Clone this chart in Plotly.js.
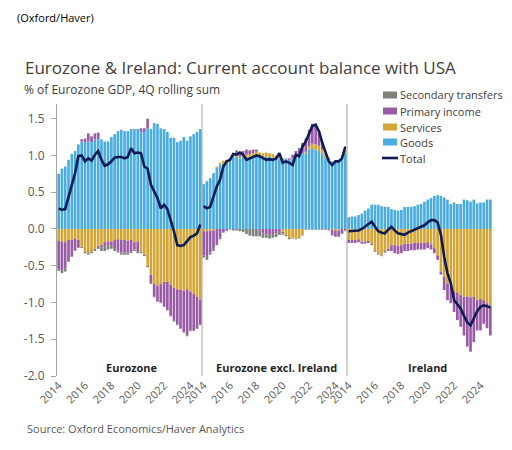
<!DOCTYPE html>
<html><head><meta charset="utf-8">
<script src="https://cdn.plot.ly/plotly-3.0.1.min.js"></script>
<style>html,body{margin:0;padding:0;background:#fff}#chart{width:512px;height:450px}</style>
</head><body><div id="chart"></div>
<script>
// Quarterly categories 2014Q1 - 2024Q4
const years = [2014,2015,2016,2017,2018,2019,2020,2021,2022,2023,2024];
const quarterMonths = ['01','04','07','10'];
const quarters = [];
years.forEach(y => quarterMonths.forEach(m => quarters.push(y + '-' + m + '-01')));
const tickDates = ['2014-01-01','2016-01-01','2018-01-01','2020-01-01','2022-01-01','2024-01-01'];
const tickLabels = ['2014','2016','2018','2020','2022','2024'];
const yTickVals = [1.5,1.0,0.5,0.0,-0.5,-1.0,-1.5,-2.0];
const yTickText = ['1.5','1.0','0.5','0.0','-0.5','-1.0','-1.5','-2.0'];
const panelNames = ['Eurozone','Eurozone excl. Ireland','Ireland'];
const legendNames = ['Secondary transfers','Primary income','Services','Goods','Total'];

// Eurozone
const ezGoods = [0.75,0.82,0.85,0.94,1.02,1.06,1.15,1.19,1.18,1.20, 1.18,1.22,1.22,1.22,1.19,1.19,1.25,1.29,1.33,1.35, 1.33,1.33,1.36,1.36,1.36,1.32,1.32,1.37,1.36,1.44, 1.43,1.37,1.36,1.32,1.24,1.24,1.18,1.20,1.25,1.20, 1.26,1.29,1.32,1.36];
const ezServices = [-0.16,-0.17,-0.18,-0.15,-0.15,-0.13,-0.15,-0.24,-0.31,-0.33, -0.31,-0.27,-0.23,-0.22,-0.18,-0.17,-0.17,-0.15,-0.14,-0.15, -0.15,-0.16,-0.15,-0.18,-0.17,-0.31,-0.35,-0.50,-0.62,-0.75, -0.77,-0.75,-0.72,-0.72,-0.76,-0.80,-0.82,-0.83,-0.84,-0.82, -0.85,-0.88,-0.92,-0.96];
const ezPrimary = [-0.39,-0.39,-0.36,-0.29,-0.22,-0.16,-0.10,0.03,0.05,0.10, 0.08,0.08,0.09,-0.03,-0.06,-0.05,-0.05,-0.11,-0.15,-0.17, -0.17,-0.16,-0.15,-0.10,-0.14,0.05,0.05,0.13,-0.12,-0.17, -0.21,-0.25,-0.33,-0.38,-0.42,-0.45,-0.48,-0.52,-0.56,-0.63, -0.53,-0.50,-0.43,-0.34];
const ezSecondary = [-0.02,-0.04,-0.04,-0.01,-0.01,-0.01,-0.01,-0.02,-0.02,-0.02, -0.02,-0.03,-0.04,-0.05,-0.06,-0.06,-0.05,-0.04,-0.03,-0.03, -0.03,-0.03,-0.03,-0.02,-0.02,-0.02,-0.02,-0.02,-0.01,-0.01, -0.01,-0.01,-0.01,-0.01,-0.01,-0.01,-0.01,-0.01,-0.01,-0.01, -0.01,-0.01,-0.01,-0.01];
const ezTotal = [0.28,0.26,0.27,0.44,0.62,0.76,0.99,1.00,0.92,0.96, 0.93,1.01,1.06,0.94,0.86,0.88,0.92,0.97,0.98,0.98, 0.96,0.98,1.10,1.03,1.04,1.03,0.85,0.82,0.60,0.50, 0.42,0.28,0.33,0.27,0.12,-0.03,-0.22,-0.23,-0.22,-0.16, -0.11,-0.09,-0.06,0.06];

// Eurozone excl. Ireland
const exGoods = [0.61,0.65,0.69,0.76,0.83,0.87,0.89,0.90,0.91,0.98, 0.98,0.96,0.98,0.98,0.98,0.98,0.98,0.98,0.98,0.98, 0.98,0.97,0.96,0.96,0.96,0.96,0.94,0.96,0.98,1.00, 1.03,1.03,1.08,1.10,1.08,1.06,1.02,0.96,0.93,0.92, 0.92,0.94,0.97,1.02];
const exServices = [-0.03,-0.03,-0.02,-0.02,0.02,0.03,0.04,0.04,0.03,0.02, 0.02,0.02,0.02,0.03,0.04,0.05,0.07,0.06,0.05,0.06, 0.05,0.05,0.04,0.02,-0.04,-0.08,-0.12,-0.12,-0.13,-0.12, -0.08,0.02,0.05,0.06,0.07,0.07,0.06,0.05,0.04,-0.01, -0.02,-0.02,0.03,0.05];
const exPrimary = [-0.33,-0.35,-0.30,-0.26,-0.19,-0.12,-0.04,-0.02,0.00,0.03, 0.07,0.07,0.06,0.07,0.05,0.05,0.03,-0.02,-0.06,-0.07, -0.08,-0.07,-0.06,-0.04,-0.02,0.00,0.02,0.05,0.08,0.10, 0.14,0.18,0.22,0.27,0.28,0.20,0.10,0.02,-0.01,-0.07, -0.08,-0.08,-0.06,-0.02];
const exSecondary = [-0.03,-0.04,-0.03,-0.02,-0.03,-0.02,-0.01,-0.01,-0.01,-0.02, -0.02,-0.03,-0.04,-0.07,-0.09,-0.10,-0.10,-0.08,-0.06,-0.05, -0.05,-0.05,-0.05,-0.04,-0.02,-0.02,-0.02,-0.01,-0.01,-0.01, -0.01,-0.01,-0.01,-0.01,-0.01,-0.01,-0.01,-0.01,-0.01,-0.01, -0.01,-0.01,-0.01,-0.01];
const exTotal = [0.31,0.28,0.30,0.44,0.58,0.67,0.85,0.92,0.94,1.02, 1.01,1.04,1.01,0.94,0.96,0.99,1.00,0.99,0.96,0.94, 0.95,0.94,0.96,1.03,0.90,0.92,0.90,0.87,1.01,0.99, 1.12,1.19,1.30,1.40,1.42,1.33,1.17,1.03,0.92,0.87, 0.92,0.92,0.96,1.12];

// Ireland
const ieGoods = [0.16,0.17,0.17,0.19,0.21,0.25,0.28,0.33,0.33,0.33, 0.31,0.30,0.30,0.27,0.26,0.25,0.26,0.30,0.30,0.30, 0.31,0.33,0.34,0.37,0.40,0.42,0.45,0.46,0.45,0.43, 0.40,0.34,0.36,0.34,0.34,0.40,0.39,0.37,0.40,0.35, 0.36,0.36,0.40,0.40];
const ieServices = [-0.15,-0.15,-0.15,-0.14,-0.17,-0.17,-0.16,-0.20,-0.30,-0.34, -0.36,-0.30,-0.27,-0.22,-0.22,-0.23,-0.22,-0.20,-0.20,-0.20, -0.19,-0.19,-0.19,-0.19,-0.18,-0.21,-0.26,-0.36,-0.58,-0.65, -0.74,-0.79,-0.85,-0.87,-0.90,-0.92,-0.92,-0.93,-0.92,-0.97, -0.95,-0.97,-1.01,-1.04];
const iePrimary = [-0.04,-0.04,-0.04,-0.04,-0.03,-0.03,-0.03,-0.02,-0.01,-0.01, -0.01,-0.02,-0.03,-0.08,-0.11,-0.11,-0.11,-0.10,-0.10,-0.09, -0.10,-0.09,-0.09,-0.09,-0.08,-0.07,-0.07,-0.06,-0.04,-0.18, -0.23,-0.22,-0.28,-0.37,-0.43,-0.53,-0.68,-0.74,-0.62,-0.41, -0.43,-0.32,-0.34,-0.41];
const ieSecondary = [0,0,0,0,0,0,0,0,0,0, 0,0,0,0,0,0,0,0,0,0, 0,0,0,0,0,0,0,0,0,0, 0,0,0,0,0,0,0,0,0,0, 0,0,0,0];
const ieTotal = [-0.03,-0.03,-0.03,-0.02,0.00,0.03,0.06,0.10,0.03,-0.03, -0.05,-0.06,-0.01,0.03,-0.02,-0.06,-0.07,-0.08,-0.05,-0.03, 0.00,0.02,0.03,0.05,0.09,0.12,0.12,0.09,-0.08,-0.38, -0.60,-0.74,-0.97,-1.03,-1.08,-1.18,-1.27,-1.31,-1.22,-1.12, -1.06,-1.04,-1.05,-1.07];

const panels = [
  {ax:'x',  goods:ezGoods, services:ezServices, primary:ezPrimary, secondary:ezSecondary, total:ezTotal},
  {ax:'x2', goods:exGoods, services:exServices, primary:exPrimary, secondary:exSecondary, total:exTotal},
  {ax:'x3', goods:ieGoods, services:ieServices, primary:iePrimary, secondary:ieSecondary, total:ieTotal}
];
const colors = {goods:'#4BADDF', services:'#D3A534', primary:'#9A5BA6', secondary:'#7E807A', total:'#0D1C55'};

const traces = [];
panels.forEach((p) => {
  [['goods','Goods'],['services','Services'],['primary','Primary income'],['secondary','Secondary transfers']].forEach(([key,name]) => {
    traces.push({type:'bar', x:quarters, y:p[key], xaxis:p.ax, yaxis:'y', name:name,
      marker:{color:colors[key], line:{width:0}}, showlegend:false});
  });
  traces.push({type:'scatter', mode:'lines', x:quarters, y:p.total, xaxis:p.ax, yaxis:'y', name:'Total',
    line:{color:colors.total, width:2.6}, showlegend:false});
});

const L = 57, R = 20, T = 104, B = 74;
const W = 512 - L - R, H = 450 - T - B;
const px = v => (v - L) / W;
const py = v => (450 - B - v) / H;
const FONT = 'Open Sans, Noto Sans, sans-serif';

const xBase = {type:'date', range:['2013-11-16','2024-11-16'], tickvals:tickDates, ticktext:tickLabels,
  tickangle:-45, ticks:'', showline:false, showgrid:false, zeroline:false,
  tickfont:{size:11, color:'#595959', family:FONT}, anchor:'y', fixedrange:true};

// custom legend (swatches + labels)
const legendColors = [colors.secondary, colors.primary, colors.services, colors.goods, colors.total];
const legendY = [95, 111, 127, 142, 158];
const shapes = [
  {type:'line', xref:'paper', yref:'paper', x0:1/3, x1:1/3, y0:0, y1:1, line:{color:'#A6A6A6', width:1}},
  {type:'line', xref:'paper', yref:'paper', x0:2/3, x1:2/3, y0:0, y1:1, line:{color:'#A6A6A6', width:1}}
];
const annotations = [
  {text:'(Oxford/Haver)', xref:'paper', yref:'paper', x:px(15), y:py(17), xanchor:'left', yanchor:'middle', showarrow:false, font:{size:11, color:'#000', family:FONT}},
  {text:'% of Eurozone GDP, 4Q rolling sum', xref:'paper', yref:'paper', x:px(22), y:py(90), xanchor:'left', yanchor:'middle', showarrow:false, font:{size:12, color:'#404040', family:FONT}},
  {text:'Source: Oxford Economics/Haver Analytics', xref:'paper', yref:'paper', x:px(25), y:py(428), xanchor:'left', yanchor:'middle', showarrow:false, font:{size:11, color:'#595959', family:FONT}},
  {text:'<b>'+panelNames[0]+'</b>', xref:'paper', yref:'paper', x:px(132), y:py(367), xanchor:'center', yanchor:'middle', showarrow:false, font:{size:11, color:'#262626', family:FONT}},
  {text:'<b>'+panelNames[1]+'</b>', xref:'paper', yref:'paper', x:px(276), y:py(367), xanchor:'center', yanchor:'middle', showarrow:false, font:{size:11, color:'#262626', family:FONT}},
  {text:'<b>'+panelNames[2]+'</b>', xref:'paper', yref:'paper', x:px(427), y:py(367), xanchor:'center', yanchor:'middle', showarrow:false, font:{size:11, color:'#262626', family:FONT}}
];
legendNames.forEach((name, i) => {
  const yc = legendY[i];
  if (name === 'Total') {
    shapes.push({type:'line', xref:'paper', yref:'paper', x0:px(382), x1:px(398), y0:py(yc), y1:py(yc), line:{color:legendColors[i], width:2.6}});
  } else {
    shapes.push({type:'rect', xref:'paper', yref:'paper', x0:px(383), x1:px(397), y0:py(yc+3.5), y1:py(yc-3.5), line:{width:0}, fillcolor:legendColors[i]});
  }
  annotations.push({text:name, xref:'paper', yref:'paper', x:px(398), y:py(yc), xanchor:'left', yanchor:'middle', showarrow:false, font:{size:11, color:'#404040', family:FONT}});
});

const layout = {
  width:512, height:450,
  margin:{l:L, r:R, t:T, b:B},
  paper_bgcolor:'#fff', plot_bgcolor:'#fff',
  barmode:'relative', bargap:0.18,
  font:{family:FONT, color:'#404040'},
  title:{text:'Eurozone & Ireland: Current account balance with USA', font:{size:17, color:'#404040', family:FONT},
    xref:'container', yref:'container', x:25/512, xanchor:'left', y:1-68/450, yanchor:'middle'},
  xaxis:Object.assign({}, xBase, {domain:[0,1/3]}),
  xaxis2:Object.assign({}, xBase, {domain:[1/3,2/3]}),
  xaxis3:Object.assign({}, xBase, {domain:[2/3,1]}),
  yaxis:{range:[-2.0,1.7], tickvals:yTickVals, ticktext:yTickText, showline:true, linecolor:'#A6A6A6', linewidth:1,
    ticks:'outside', ticklen:5, tickcolor:'#A6A6A6', showgrid:false, zeroline:false,
    tickfont:{size:12, color:'#595959', family:FONT}, ticklabelstandoff:4, fixedrange:true},
  shapes:shapes,
  annotations:annotations,
  showlegend:false, hovermode:false
};

Plotly.newPlot('chart', traces, layout, {displayModeBar:false, staticPlot:true});
</script></body></html>
